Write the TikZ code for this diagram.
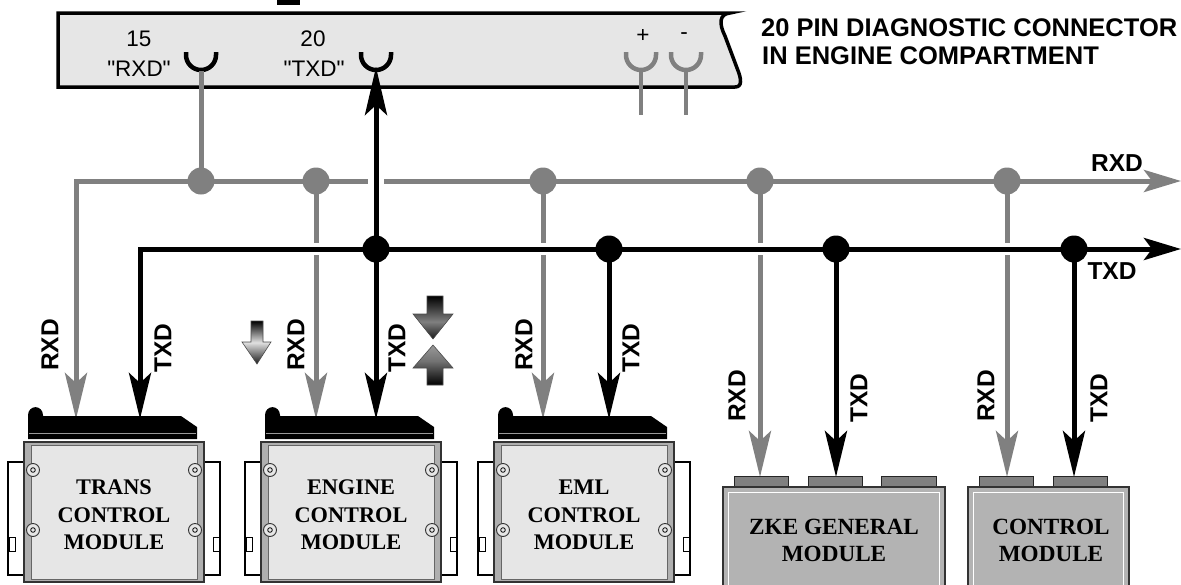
\documentclass[tikz,border=0pt]{standalone}
\usepackage{fontspec}
\setmainfont{Liberation Sans}
\newfontfamily\modfont{Liberation Serif}
\newfontfamily\pinfont[Ligatures=TeXOff]{Liberation Sans}
\usetikzlibrary{arrows.meta,calc}
\definecolor{rxgray}{RGB}{128,128,128}
\definecolor{panel}{RGB}{230,230,230}
\definecolor{zkefill}{RGB}{179,179,179}
\definecolor{framegray}{RGB}{175,175,175}
\definecolor{tabgray}{RGB}{128,128,128}
\pgfdeclareverticalshading{smalldown}{100bp}{color(0bp)=(black!90); color(25bp)=(black!90); color(50bp)=(black!12); color(75bp)=(black); color(100bp)=(black)}
\pgfdeclareverticalshading{bigdown}{100bp}{color(0bp)=(black!90); color(25bp)=(black!90); color(45bp)=(black!50); color(75bp)=(black); color(100bp)=(black)}
\pgfdeclareverticalshading{bigup}{100bp}{color(0bp)=(black); color(25bp)=(black); color(55bp)=(black!55); color(75bp)=(black!40); color(100bp)=(black!40)}
\tikzset{
  vtip/.tip={Stealth[length=46pt,width=22pt,inset=10pt]},
  uptip/.tip={Stealth[length=48pt,width=22pt,inset=10pt]},
  htip/.tip={Stealth[length=37pt,width=22pt,inset=8pt]},
  rxline/.style={draw=rxgray, line width=5pt},
  txline/.style={draw=black, line width=5pt},
  rxdot/.style={circle, fill=rxgray, minimum size=27pt, inner sep=0pt},
  txdot/.style={circle, fill=black, minimum size=27pt, inner sep=0pt},
  sig/.style={font=\bfseries\fontsize{24.5}{24.5}\selectfont, inner sep=0pt},
  vsig/.style={sig, rotate=90},
  pintext/.style={font=\pinfont\fontsize{22.5}{22.5}\selectfont, inner sep=0pt},
  titletext/.style={font=\bfseries\fontsize{25.5}{28}\selectfont, inner sep=0pt, anchor=base west},
  modtext/.style={font=\modfont\bfseries\fontsize{22.3}{27.5}\selectfont, align=center, inner sep=0pt},
  boxtext/.style={font=\modfont\bfseries\fontsize{23.2}{27}\selectfont, align=center, inner sep=0pt},
  socket/.style={line width=4.5pt},
  gradarrow/.style={draw=black!70, line width=0.6pt},
}
\newcommand{\ecumodule}[3]{%
\begin{scope}[shift={(#1,0)}]
\draw[black, line width=1.3pt, fill=white] (-16,462) rectangle (0,575);
\draw[black, line width=1pt, fill=white] (-15,537) rectangle (-9,551);
\draw[black, line width=1.3pt, fill=white] (180,462) rectangle (196,575);
\draw[black, line width=1pt, fill=white] (189,537) rectangle (195,551);
\draw[draw=black!80, line width=1.3pt, fill=framegray] (0,442) rectangle (180,582);
\draw[draw=black!60, line width=0.8pt, fill=panel] (7,445) rectangle (173,579);
\foreach \sx in {9,171} \foreach \sy in {470,530} {
  \draw[black!80, line width=0.9pt, fill=panel] (\sx,\sy) circle[radius=6.5];
  \draw[black, line width=0.8pt] (\sx,\sy) circle[radius=2.3];
}
\fill[black] (4,439) {[rounded corners=8pt] -- (4,407) -- (19,407)} -- (19,416) -- (157,416) -- (173,427) -- (173,439) -- cycle;
\draw[black!40, line width=0.8pt] (5,433) -- (172,433);
\node[modtext] (#2) at (90,515) {#3};
\end{scope}}
\begin{document}
\begin{tikzpicture}[x=1pt, y=-1pt]
\useasboundingbox (0,0) rectangle (1181,584);
% small black mark at top
\fill[black] (277,0) rectangle (300,4.5);
% diagnostic connector
\draw[line width=3.5pt, fill=panel] (58,13) -- (730,13)
  .. controls (719,14) and (719,24) .. (725,36) -- (737,68)
  .. controls (742,80) and (742,87) .. (735,87) -- (58,87) -- cycle;
\node[pintext] (n15) at (139,39) {15};
\node[pintext] (nrxd) at (139,69) {"RXD"};
\node[pintext] (n20) at (313,39) {20};
\node[pintext] (ntxd) at (314,69) {"TXD"};
\node[pintext] (nplus) at (643,36) {+};
\node[pintext] (nminus) at (684,36) {-};
\draw[socket, black] (186,52) -- (186,55) arc[start angle=180, end angle=0, radius=15] -- (216,52);
\draw[socket, black] (361,52) -- (361,55) arc[start angle=180, end angle=0, radius=15] -- (391,52);
\draw[socket, rxgray] (626,52) -- (626,55) arc[start angle=180, end angle=0, radius=15] -- (656,52);
\draw[socket, rxgray] (671,52) -- (671,55) arc[start angle=180, end angle=0, radius=15] -- (701,52);
\draw[rxgray, line width=4pt] (641,71) -- (641,115);
\draw[rxgray, line width=4pt] (686,71) -- (686,115);
% title
\node[titletext] (title1) at (761,36) {20 PIN DIAGNOSTIC CONNECTOR};
\node[titletext] (title2) at (762,64) {IN ENGINE COMPARTMENT};
% coordinates
\coordinate (rxpin) at (201,71);
\coordinate (txpin) at (376,67);
\coordinate (rxj1) at (201,181);
\coordinate (rxj2) at (316,181);
\coordinate (rxj3) at (543,181);
\coordinate (rxj4) at (760,181);
\coordinate (rxj5) at (1007,181);
\coordinate (rxend) at (1181,181);
\coordinate (txj1) at (376,249);
\coordinate (txj2) at (609,249);
\coordinate (txj3) at (836,249);
\coordinate (txj4) at (1074,249);
\coordinate (txend) at (1181,249);
\coordinate (tcmrx) at (76,419);
\coordinate (tcmtx) at (140,419);
\coordinate (ecmrx) at (316,419);
\coordinate (ecmtx) at (376,419);
\coordinate (emlrx) at (543,419);
\coordinate (emltx) at (609,419);
\coordinate (zkerx) at (760,477);
\coordinate (zketx) at (836,477);
\coordinate (cmrx) at (1007,477);
\coordinate (cmtx) at (1074,477);
% RXD network (gray)
\draw[rxline] (rxpin) -- (rxj1);
\draw[rxline, {vtip}-{htip}] (tcmrx) |- (rxend);
\draw[rxline, -{vtip}] (rxj2) -- (ecmrx);
\draw[rxline, -{vtip}] (rxj3) -- (emlrx);
\draw[rxline, -{vtip}] (rxj4) -- (zkerx);
\draw[rxline, -{vtip}] (rxj5) -- (cmrx);
% crossing gaps
\foreach \c in {rxj2,rxj3,rxj4,rxj5}
  \draw[white, line width=8pt] ($(\c |- txj1)+(0,-6)$) -- ($(\c |- txj1)+(0,6)$);
\draw[white, line width=8pt] ($(txj1 |- rxj1)+(-8,0)$) -- ($(txj1 |- rxj1)+(8,0)$);
% TXD network (black)
\draw[txline, {vtip}-{htip}] (tcmtx) |- (txend);
\draw[txline, {uptip}-{vtip}] (txpin) -- (ecmtx);
\draw[txline, -{vtip}] (txj2) -- (emltx);
\draw[txline, -{vtip}] (txj3) -- (zketx);
\draw[txline, -{vtip}] (txj4) -- (cmtx);
% junction dots
\foreach \c in {rxj1,rxj2,rxj3,rxj4,rxj5} \node[rxdot] (d\c) at (\c) {};
\foreach \c in {txj1,txj2,txj3,txj4} \node[txdot] (d\c) at (\c) {};
% bus labels
\node[sig] (rxdlbl) at (1117,163) {RXD};
\node[sig] (txdlbl) at (1112,271) {TXD};
% vertical labels
\node[vsig] (l1) at (50,345) {RXD};
\node[vsig] (l2) at (163,348) {TXD};
\node[vsig] (l3) at (296,345) {RXD};
\node[vsig] (l4) at (397,348) {TXD};
\node[vsig] (l5) at (524,345) {RXD};
\node[vsig] (l6) at (631,348) {TXD};
\node[vsig] (l7) at (737,396) {RXD};
\node[vsig] (l8) at (859,398) {TXD};
\node[vsig] (l9) at (986,396) {RXD};
\node[vsig] (l10) at (1099,398) {TXD};
% shaded direction arrows
\shade[shading=smalldown, gradarrow]
  (251,321) -- (263,321) -- (263,342) -- (271,342) -- (257,364) -- (242,342) -- (251,342) -- cycle;
\shade[shading=bigdown, gradarrow]
  (427,296) -- (443,296) -- (443,314) -- (453,314) -- (433,339) -- (413,314) -- (427,314) -- cycle;
\shade[shading=bigup, gradarrow]
  (433,345) -- (453,368) -- (443,368) -- (443,385) -- (427,385) -- (427,368) -- (413,368) -- cycle;
% control modules
\ecumodule{24}{tcm}{TRANS\\CONTROL\\MODULE}
\ecumodule{261}{ecm}{ENGINE\\CONTROL\\MODULE}
\ecumodule{494}{eml}{EML\\CONTROL\\MODULE}
% ZKE general module
\draw[draw=black!85, line width=1pt, fill=tabgray] (734,476) rectangle (788,487);
\draw[draw=black!85, line width=1pt, fill=tabgray] (808,476) rectangle (862,487);
\draw[draw=black!85, line width=1pt, fill=tabgray] (881,476) rectangle (936,487);
\draw[draw=black!80, line width=1.5pt, fill=zkefill] (723,487) rectangle (945,600);
\draw[white, line width=1pt] (728.5,600) -- (728.5,492.5) -- (939.5,492.5) -- (939.5,600);
\node[boxtext] (zke) at (834,540) {ZKE GENERAL\\MODULE};
% control module
\draw[draw=black!85, line width=1pt, fill=tabgray] (979,476) rectangle (1033,487);
\draw[draw=black!85, line width=1pt, fill=tabgray] (1053,476) rectangle (1107,487);
\draw[draw=black!80, line width=1.5pt, fill=zkefill] (968,487) rectangle (1129,600);
\draw[white, line width=1pt] (973.5,600) -- (973.5,492.5) -- (1123.5,492.5) -- (1123.5,600);
\node[boxtext] (cm) at (1051,540) {CONTROL\\MODULE};
\end{tikzpicture}
\end{document}
